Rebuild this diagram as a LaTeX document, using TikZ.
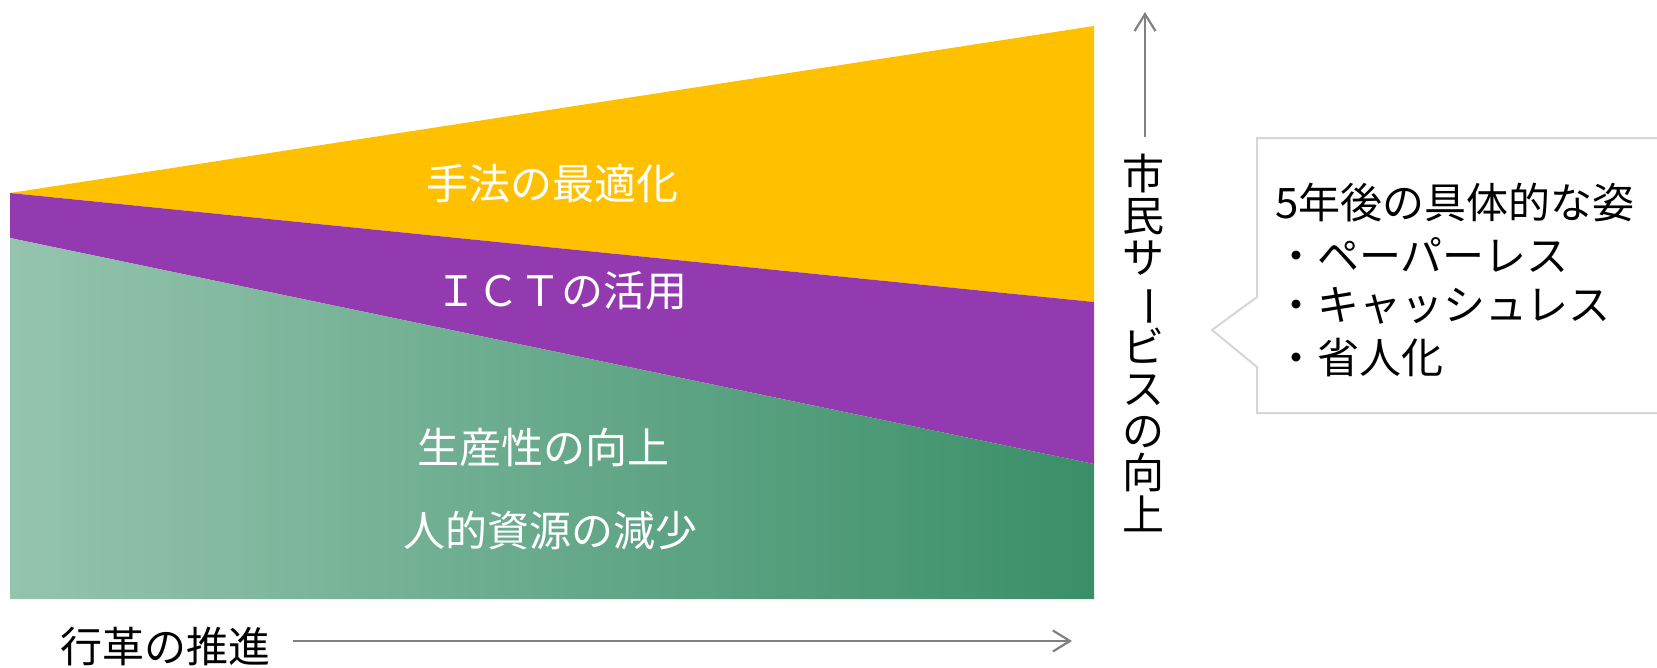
\documentclass[tikz,border=0pt]{standalone}
\usepackage{fontspec}
\setmainfont{Noto Sans CJK JP}
\usetikzlibrary{arrows.meta}
\definecolor{cyellow}{HTML}{FFC000}
\definecolor{cpurple}{HTML}{943AB0}
\definecolor{cgreenL}{HTML}{95C4AE}
\definecolor{cgreenR}{HTML}{3A8F68}
\definecolor{cgrayline}{HTML}{808080}
\definecolor{cbox}{HTML}{D6D6D6}
\tikzset{
  whitelabel/.style={text=white, font=\fontsize{42}{42}\selectfont, inner sep=0pt},
  blacklabel/.style={text=black, font=\fontsize{42}{42}\selectfont, inner sep=0pt},
  grayarrow/.style={draw=cgrayline, line width=2.2pt, -{Straight Barb[length=17pt,width=21pt,line width=2.2pt]}},
  calloutline/.style={draw=cbox, line width=2pt},
}
\begin{document}
\begin{tikzpicture}[x=1pt,y=-1pt]
\useasboundingbox (0,0) rectangle (1657,667);
\clip (0,0) rectangle (1657,667);
% bands
\fill[cyellow] (10,193) -- (1094,26) -- (1094,302) -- cycle;
\fill[cpurple] (10,193) -- (1094,302) -- (1094,464) -- (10,238) -- cycle;
\shade[left color=cgreenL, right color=cgreenR] (10,238) -- (1094,464) -- (1094,599) -- (10,599) -- cycle;
% labels in bands
\node[whitelabel] (t1) at (552,184) {手法の最適化};
\node[whitelabel] (t2) at (561,291) {ＩＣＴの活用};
\node[whitelabel] (t3) at (543,447) {生産性の向上};
\node[whitelabel] (t4) at (550,531) {人的資源の減少};
% horizontal axis
\node[blacklabel] (xlab) at (165,647) {行革の推進};
\coordinate (h0) at (293,641);
\coordinate (h1) at (1072,641);
\draw[grayarrow] (h0) -- (h1);
% vertical axis
\coordinate (v0) at (1145,137);
\coordinate (v1) at (1145,12);
\draw[grayarrow] (v0) -- (v1);
\node[text=black, inner sep=0pt, align=center, font={\fontsize{42}{42}\selectfont}] (ylab) at (1143,343)
  {市\\民\\サ\\\rotatebox[origin=c]{-90}{ー}\\ビ\\ス\\の\\向\\上};
% callout
\draw[calloutline] (1670,138) -- (1257,138) -- (1257,297) -- (1212,330) -- (1257,367) -- (1257,413) -- (1670,413);
\node[blacklabel, anchor=west] (c1) at (1275,203) {5年後の具体的な姿};
\node[blacklabel, anchor=west] (c2) at (1275,255) {・ペーパーレス};
\node[blacklabel, anchor=west] (c3) at (1275,306) {・キャッシュレス};
\node[blacklabel, anchor=west] (c4) at (1275,358) {・省人化};
\end{tikzpicture}
\end{document}
